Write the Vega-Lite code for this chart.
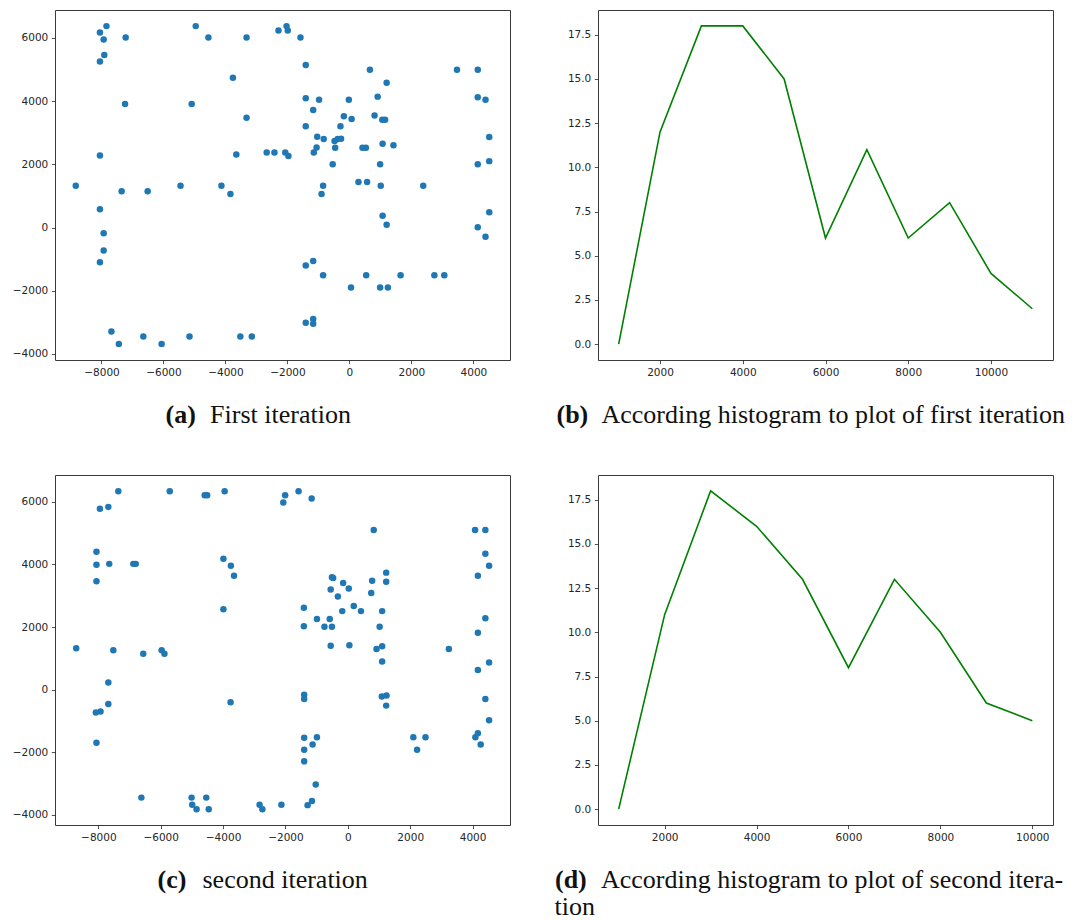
{
  "$schema": "https://vega.github.io/schema/vega-lite/v6.json",
  "background": "white",
  "padding": {"left": 11, "top": 9, "right": 0, "bottom": 0},
  "config": {
    "view": {"stroke": "#3a3a3a", "strokeWidth": 1},
    "axis": {
      "grid": false,
      "domain": false,
      "labelFont": "DejaVu Sans",
      "labelFontSize": 10.5,
      "labelColor": "#262626",
      "labelFlush": false,
      "labelOverlap": false,
      "labelBound": false,
      "labelPadding": 3.5,
      "tickColor": "#262626",
      "tickSize": 3.7,
      "tickWidth": 0.8,
      "titleFont": "Liberation Serif",
      "titleFontSize": 26,
      "titleColor": "#111111",
      "titleFontWeight": "normal",
      "titleAngle": 0,
      "titleAlign": "left",
      "titleBaseline": "alphabetic",
      "titlePadding": 0
    }
  },
  "datasets": {
    "first": [
      {"x": -7840, "y": 6370}, {"x": -8050, "y": 6170}, {"x": -7930, "y": 5950}, {"x": -7220, "y": 6010},
      {"x": -7910, "y": 5460}, {"x": -8050, "y": 5250}, {"x": -4960, "y": 6370}, {"x": -4550, "y": 6010},
      {"x": -3320, "y": 6010}, {"x": -2290, "y": 6230}, {"x": -2030, "y": 6370}, {"x": -1990, "y": 6230},
      {"x": -1580, "y": 6010}, {"x": -3760, "y": 4740}, {"x": -7240, "y": 3910}, {"x": -5090, "y": 3910},
      {"x": -3320, "y": 3470}, {"x": -8050, "y": 2280}, {"x": -3650, "y": 2310}, {"x": -2670, "y": 2370},
      {"x": -2420, "y": 2370}, {"x": -2070, "y": 2370}, {"x": -1970, "y": 2260}, {"x": -1410, "y": 5140},
      {"x": 660, "y": 4990}, {"x": 1200, "y": 4580}, {"x": 3470, "y": 4990}, {"x": 4140, "y": 4990},
      {"x": -1410, "y": 4090}, {"x": -980, "y": 4040}, {"x": -20, "y": 4040}, {"x": 910, "y": 4140},
      {"x": 4140, "y": 4120}, {"x": 4390, "y": 4040}, {"x": -1170, "y": 3720}, {"x": -180, "y": 3520},
      {"x": 70, "y": 3430}, {"x": 810, "y": 3540}, {"x": 1060, "y": 3410}, {"x": 1150, "y": 3410},
      {"x": -1410, "y": 3200}, {"x": -290, "y": 3200}, {"x": -1040, "y": 2870}, {"x": -830, "y": 2800},
      {"x": -480, "y": 2740}, {"x": -380, "y": 2800}, {"x": -270, "y": 2810}, {"x": 4510, "y": 2860},
      {"x": -1060, "y": 2530}, {"x": -1150, "y": 2370}, {"x": -460, "y": 2520}, {"x": 420, "y": 2520},
      {"x": 530, "y": 2520}, {"x": 1070, "y": 2650}, {"x": 1420, "y": 2600}, {"x": 4510, "y": 2100},
      {"x": 4140, "y": 2000}, {"x": -540, "y": 2000}, {"x": 990, "y": 2000}, {"x": -8830, "y": 1320},
      {"x": -7350, "y": 1150}, {"x": -6510, "y": 1150}, {"x": -5450, "y": 1320}, {"x": -4130, "y": 1320},
      {"x": -3840, "y": 1060}, {"x": -8050, "y": 580}, {"x": -7930, "y": -180}, {"x": -7930, "y": -730},
      {"x": -8050, "y": -1100}, {"x": -7680, "y": -3290}, {"x": -7440, "y": -3680}, {"x": -6650, "y": -3450},
      {"x": -6060, "y": -3680}, {"x": -5160, "y": -3450}, {"x": -3520, "y": -3450}, {"x": -3150, "y": -3450},
      {"x": -850, "y": 1320}, {"x": -900, "y": 1060}, {"x": 290, "y": 1440}, {"x": 570, "y": 1440},
      {"x": 1010, "y": 1320}, {"x": 2380, "y": 1320}, {"x": 1070, "y": 370}, {"x": 1200, "y": 90},
      {"x": 4510, "y": 480}, {"x": 4140, "y": 10}, {"x": 4390, "y": -290}, {"x": -1410, "y": -1200},
      {"x": -1170, "y": -1060}, {"x": -850, "y": -1510}, {"x": 540, "y": -1510}, {"x": 1650, "y": -1510},
      {"x": 2740, "y": -1510}, {"x": 3060, "y": -1510}, {"x": 50, "y": -1900}, {"x": 990, "y": -1900},
      {"x": 1240, "y": -1900}, {"x": -1410, "y": -3010}, {"x": -1170, "y": -2890}, {"x": -1170, "y": -3040}
    ],
    "second": [
      {"x": -7360, "y": 6340}, {"x": -7950, "y": 5780}, {"x": -7680, "y": 5840}, {"x": -5710, "y": 6340},
      {"x": -4590, "y": 6210}, {"x": -4510, "y": 6210}, {"x": -3950, "y": 6340}, {"x": -2010, "y": 6210},
      {"x": -2070, "y": 5980}, {"x": -1580, "y": 6340}, {"x": -1160, "y": 6110}, {"x": -8060, "y": 4410},
      {"x": -8060, "y": 3990}, {"x": -7650, "y": 4020}, {"x": -6880, "y": 4020}, {"x": -6800, "y": 4020},
      {"x": -8060, "y": 3465}, {"x": -3990, "y": 4180}, {"x": -3750, "y": 3960}, {"x": -3650, "y": 3640},
      {"x": -3990, "y": 2570}, {"x": 830, "y": 5100}, {"x": 4080, "y": 5100}, {"x": 4410, "y": 5100},
      {"x": 4410, "y": 4340}, {"x": 4530, "y": 3960}, {"x": 4170, "y": 3640}, {"x": -510, "y": 3590},
      {"x": -470, "y": 3570}, {"x": -150, "y": 3410}, {"x": -550, "y": 3200}, {"x": 30, "y": 3230},
      {"x": -320, "y": 2980}, {"x": 780, "y": 3480}, {"x": 1230, "y": 3740}, {"x": 1230, "y": 3450},
      {"x": 750, "y": 3090}, {"x": -1410, "y": 2620}, {"x": 190, "y": 2670}, {"x": -180, "y": 2510},
      {"x": 420, "y": 2510}, {"x": 1100, "y": 2510}, {"x": -990, "y": 2260}, {"x": -580, "y": 2260},
      {"x": -1410, "y": 2030}, {"x": -750, "y": 2010}, {"x": -510, "y": 2010}, {"x": 1020, "y": 2010},
      {"x": 4410, "y": 2280}, {"x": 4170, "y": 1820}, {"x": -8710, "y": 1320}, {"x": -7520, "y": 1260},
      {"x": -6560, "y": 1150}, {"x": -5970, "y": 1260}, {"x": -5880, "y": 1150}, {"x": -7680, "y": 230},
      {"x": -7680, "y": -460}, {"x": -8080, "y": -730}, {"x": -7930, "y": -700}, {"x": -8060, "y": -1700},
      {"x": -3760, "y": -400}, {"x": -6620, "y": -3450}, {"x": -5010, "y": -3450}, {"x": -4540, "y": -3450},
      {"x": -4990, "y": -3680}, {"x": -4850, "y": -3820}, {"x": -4460, "y": -3820}, {"x": -2830, "y": -3680},
      {"x": -2740, "y": -3820}, {"x": -2130, "y": -3680}, {"x": -550, "y": 1400}, {"x": 50, "y": 1420},
      {"x": 920, "y": 1300}, {"x": 1100, "y": 1390}, {"x": 3240, "y": 1300}, {"x": 1100, "y": 900},
      {"x": 4170, "y": 630}, {"x": 4530, "y": 870}, {"x": -1400, "y": -160}, {"x": -1400, "y": -300},
      {"x": 1090, "y": -220}, {"x": 1240, "y": -190}, {"x": 1230, "y": -510}, {"x": 4410, "y": -300},
      {"x": 4530, "y": -980}, {"x": -1400, "y": -1540}, {"x": -990, "y": -1520}, {"x": -1130, "y": -1750},
      {"x": -1400, "y": -1920}, {"x": -1400, "y": -2290}, {"x": -1030, "y": -3030}, {"x": -1290, "y": -3690},
      {"x": -1150, "y": -3560}, {"x": 2100, "y": -1520}, {"x": 2490, "y": -1520}, {"x": 2220, "y": -1920},
      {"x": 4090, "y": -1520}, {"x": 4170, "y": -1390}, {"x": 4260, "y": -1750}
    ],
    "hist1": [
      {"bin": 1000, "count": 0}, {"bin": 2000, "count": 12}, {"bin": 3000, "count": 18}, {"bin": 4000, "count": 18},
      {"bin": 5000, "count": 15}, {"bin": 6000, "count": 6}, {"bin": 7000, "count": 11}, {"bin": 8000, "count": 6},
      {"bin": 9000, "count": 8}, {"bin": 10000, "count": 4}, {"bin": 11000, "count": 2}
    ],
    "hist2": [
      {"bin": 1000, "count": 0}, {"bin": 2000, "count": 11}, {"bin": 3000, "count": 18}, {"bin": 4000, "count": 16},
      {"bin": 5000, "count": 13}, {"bin": 6000, "count": 8}, {"bin": 7000, "count": 13}, {"bin": 8000, "count": 10},
      {"bin": 9000, "count": 6}, {"bin": 10000, "count": 5}
    ]
  },
  "columns": 2,
  "spacing": {"row": 115, "column": 88},
  "bounds": "flush",
  "concat": [
    {
      "width": 455,
      "height": 350,
      "data": {"name": "first"},
      "mark": {"type": "circle", "size": 42, "color": "#1f77b4", "opacity": 1},
      "encoding": {
        "x": {
          "field": "x", "type": "quantitative",
          "scale": {"domain": [-9500, 5180], "nice": false, "zero": false},
          "axis": {"values": [-8000, -6000, -4000, -2000, 0, 2000, 4000], "format": "d",
                   "title": "First iteration", "titleX": 154.6, "titleY": 62.5}
        },
        "y": {
          "field": "y", "type": "quantitative",
          "scale": {"domain": [-4190, 6880], "nice": false, "zero": false},
          "axis": {"values": [-4000, -2000, 0, 2000, 4000, 6000], "format": "d",
                   "title": "(a)", "titleX": 110, "titleY": 412.5, "titleFontWeight": "bold"}
        }
      }
    },
    {
      "width": 455,
      "height": 350,
      "data": {"name": "hist1"},
      "mark": {"type": "line", "color": "#008000", "strokeWidth": 1.6, "clip": true},
      "encoding": {
        "x": {
          "field": "bin", "type": "quantitative",
          "scale": {"domain": [500, 11500], "nice": false, "zero": false},
          "axis": {"values": [2000, 4000, 6000, 8000, 10000], "format": "d",
                   "title": "According histogram to plot of first iteration", "titleX": 3, "titleY": 62.5}
        },
        "y": {
          "field": "count", "type": "quantitative",
          "scale": {"domain": [-0.9, 18.9], "nice": false, "zero": false},
          "axis": {"values": [0, 2.5, 5, 7.5, 10, 12.5, 15, 17.5], "format": ".1f",
                   "title": "(b)", "titleX": -42, "titleY": 412.5, "titleFontWeight": "bold"}
        }
      }
    },
    {
      "width": 455,
      "height": 350,
      "data": {"name": "second"},
      "mark": {"type": "circle", "size": 42, "color": "#1f77b4", "opacity": 1},
      "encoding": {
        "x": {
          "field": "x", "type": "quantitative",
          "scale": {"domain": [-9390, 5200], "nice": false, "zero": false},
          "axis": {"values": [-8000, -6000, -4000, -2000, 0, 2000, 4000], "format": "d",
                   "title": "second iteration", "titleX": 147, "titleY": 62.5}
        },
        "y": {
          "field": "y", "type": "quantitative",
          "scale": {"domain": [-4325, 6860], "nice": false, "zero": false},
          "axis": {"values": [-4000, -2000, 0, 2000, 4000, 6000], "format": "d",
                   "title": "(c)", "titleX": 102, "titleY": 412.5, "titleFontWeight": "bold"}
        }
      }
    },
    {
      "width": 455,
      "height": 350,
      "data": {"name": "hist2"},
      "title": {"text": "tion", "orient": "bottom", "anchor": "start", "frame": "group",
                "offset": 22, "dx": -43.5, "baseline": "alphabetic",
                "font": "Liberation Serif", "fontSize": 26, "fontWeight": "normal", "color": "#111111"},
      "mark": {"type": "line", "color": "#008000", "strokeWidth": 1.6, "clip": true},
      "encoding": {
        "x": {
          "field": "bin", "type": "quantitative",
          "scale": {"domain": [550, 10450], "nice": false, "zero": false},
          "axis": {"values": [2000, 4000, 6000, 8000, 10000], "format": "d",
                   "title": "According histogram to plot of second itera-", "titleX": 2.5, "titleY": 62.5}
        },
        "y": {
          "field": "count", "type": "quantitative",
          "scale": {"domain": [-0.9, 18.9], "nice": false, "zero": false},
          "axis": {"values": [0, 2.5, 5, 7.5, 10, 12.5, 15, 17.5], "format": ".1f",
                   "title": "(d)", "titleX": -43.5, "titleY": 412.5, "titleFontWeight": "bold"}
        }
      }
    }
  ]
}
